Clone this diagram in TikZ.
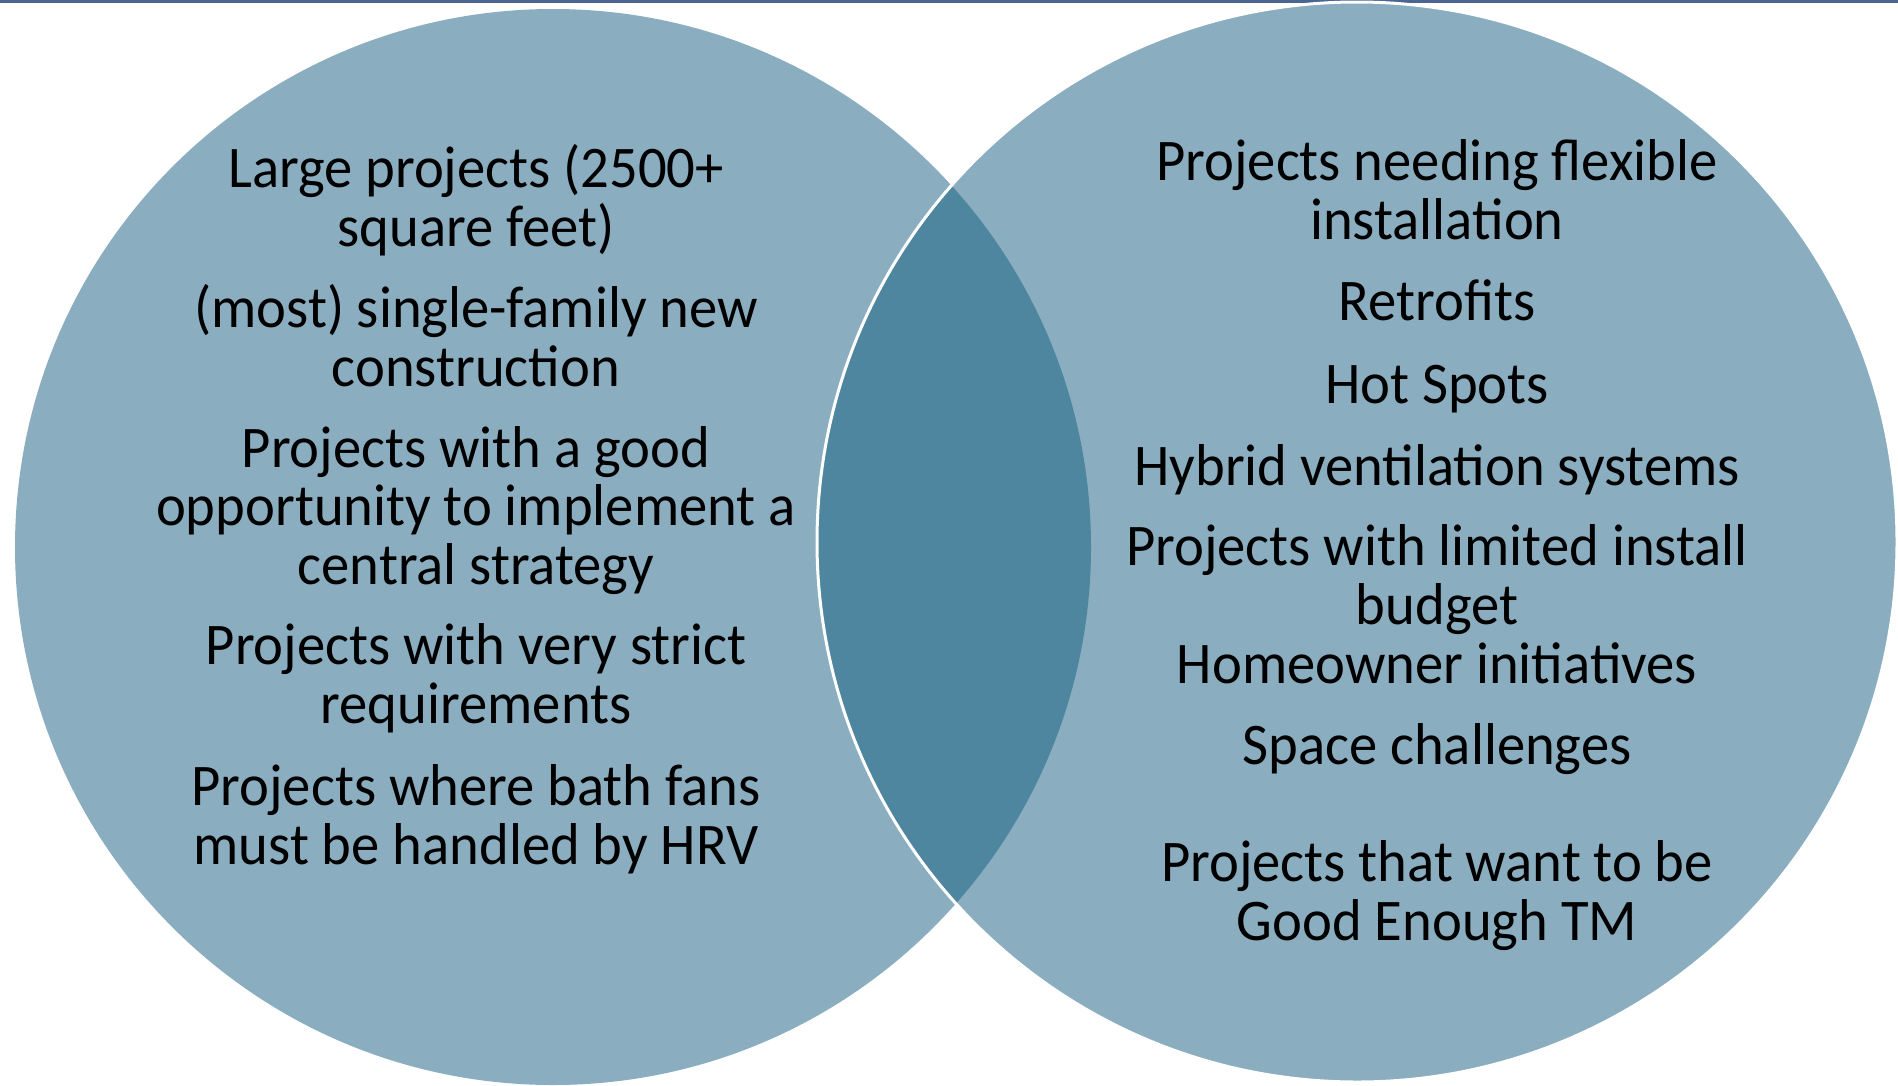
\documentclass[tikz,border=0pt]{standalone}
\usepackage{fontspec}
\setmainfont{Carlito}[FakeStretch=0.96]
\definecolor{setlight}{HTML}{8AAEC0}
\definecolor{setdark}{HTML}{4E869F}
\definecolor{rulecol}{HTML}{4A6590}
\begin{document}
\begin{tikzpicture}[x=1pt,y=-1pt,
  item/.style={anchor=base, align=center, inner sep=0pt, text=black,
    font=\fontsize{59}{58.5}\selectfont}]
\useasboundingbox (0,0) rectangle (1898,1085);
% thin rule along the top edge
\draw[rulecol, line width=2.5pt] (0,1.5) -- (1898,1.5);
% the two sets
\fill[setlight] (553,547) circle[radius=538];
\fill[setlight] (1357,542) circle[radius=540];
% overlap of the two sets
\begin{scope}
  \clip (553,547) circle[radius=538];
  \fill[setdark] (1357,542) circle[radius=540];
\end{scope}
\draw[white, line width=3pt] (1357,542) circle[radius=540];
% left set (each node sits on the baseline of its last line)
\node[item] (l1) at (476,246) {Large projects (2500+\\square feet)};
\node[item] (l2) at (476,386) {(most) single-family new\\construction};
\node[item] (l3) at (476,584) {Projects with a good\\opportunity to implement a\\central strategy};
\node[item] (l4) at (476,723) {Projects with very strict\\requirements};
\node[item] (l5) at (476,864) {Projects where bath fans\\must be handled by HRV};
% right set
\node[item] (r1) at (1437,239) {Projects needing flexible\\installation};
\node[item] (r2) at (1437,320) {Retrofits};
\node[item] (r3) at (1437,403) {Hot Spots};
\node[item] (r4) at (1437,485) {Hybrid ventilation systems};
\node[item] (r5) at (1437,624) {Projects with limited install\\budget};
\node[item] (r6) at (1437,683) {Homeowner initiatives};
\node[item] (r7) at (1437,764) {Space challenges};
\node[item] (r8) at (1437,940) {Projects that want to be\\Good Enough TM};
\end{tikzpicture}
\end{document}
